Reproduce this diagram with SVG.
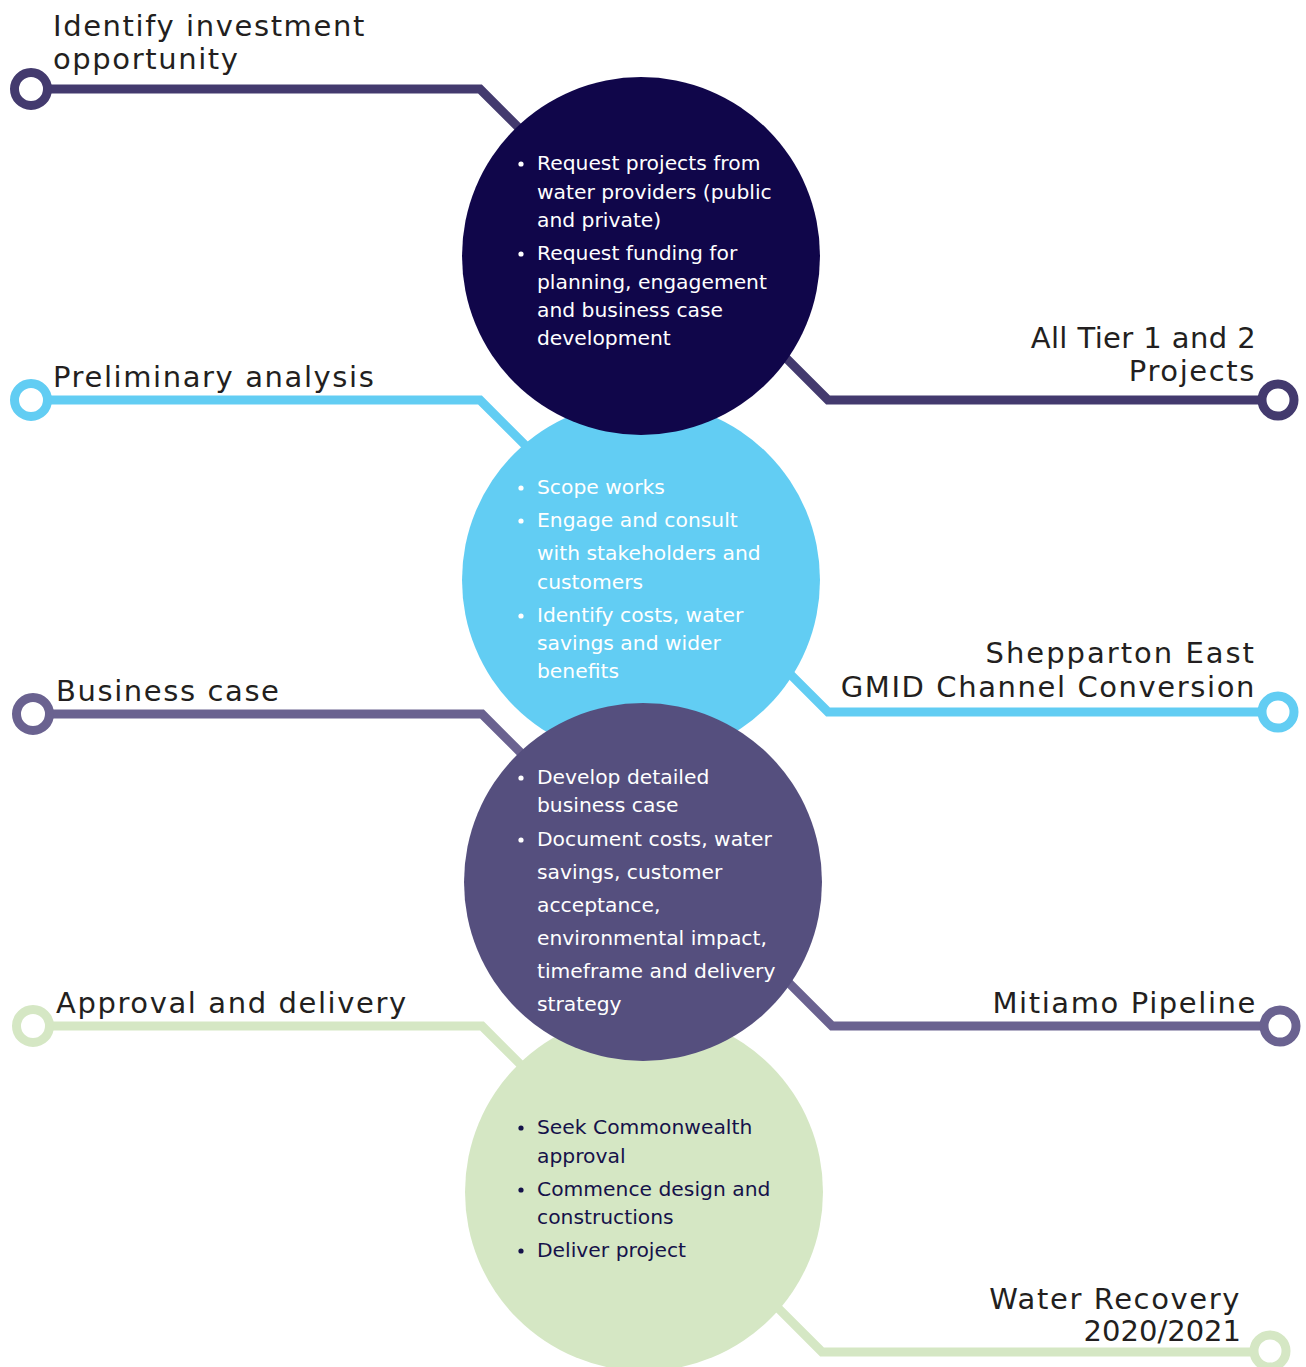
<svg xmlns="http://www.w3.org/2000/svg" width="1306" height="1367" viewBox="0 0 1306 1367">
<style>
.ln{fill:none;stroke-width:9;stroke-linejoin:miter}
.end{fill:#fff;stroke-width:9}
.c1{stroke:#433a6e}
.c2{stroke:#62cdf3}
.c3{stroke:#6a6290}
.c4{stroke:#d5e7c4}
.title{font-family:"DejaVu Sans","Open Sans",sans-serif;font-size:29px;letter-spacing:1.6px;fill:#231f20}
.r{text-anchor:end}
.body{font-family:"DejaVu Sans","Open Sans",sans-serif;font-size:20.3px}
.w{fill:#fff}
.d{fill:#15124a}
</style>
<rect width="1306" height="1367" fill="#fff"/>
<g id="connectors">
<polyline class="ln c1" points="48,89 480,89 641,250"/>
<polyline class="ln c1" points="700,272 828,400 1260,400"/>
<polyline class="ln c2" points="48,400 480,400 600,520"/>
<polyline class="ln c2" points="700,584 828,712 1260,712"/>
<polyline class="ln c3" points="50,714 482,714 600,832"/>
<polyline class="ln c3" points="700,894 832,1026 1262,1026"/>
<polyline class="ln c4" points="50,1026 482,1026 600,1144"/>
<polyline class="ln c4" points="700,1230 822,1352 1252,1352"/>
<circle class="end c1" cx="31" cy="89" r="16.5"/>
<circle class="end c1" cx="1278" cy="400" r="16"/>
<circle class="end c2" cx="31" cy="400" r="16.5"/>
<circle class="end c2" cx="1278" cy="712" r="16"/>
<circle class="end c3" cx="33" cy="714" r="16.5"/>
<circle class="end c3" cx="1280" cy="1026" r="16"/>
<circle class="end c4" cx="33" cy="1026" r="16.5"/>
<circle class="end c4" cx="1270" cy="1351" r="16"/>
</g>
<g id="stage2">
<circle cx="641" cy="580" r="179" fill="#62cdf3"/>
<g class="body w">
<circle cx="521" cy="488" r="2.6"/><text x="537" y="494">Scope works</text>
<circle cx="521" cy="521" r="2.6"/><text x="537" y="527">Engage and consult</text>
<text x="537" y="560">with stakeholders and</text>
<text x="537" y="589">customers</text>
<circle cx="521" cy="616" r="2.6"/><text x="537" y="622">Identify costs, water</text>
<text x="537" y="650">savings and wider</text>
<text x="537" y="678">benefits</text>
</g>
</g>
<g id="stage4">
<circle cx="644" cy="1192" r="179" fill="#d5e7c4"/>
<g class="body d">
<circle cx="521" cy="1128" r="2.6"/><text x="537" y="1134">Seek Commonwealth</text>
<text x="537" y="1163">approval</text>
<circle cx="521" cy="1190" r="2.6"/><text x="537" y="1196">Commence design and</text>
<text x="537" y="1224">constructions</text>
<circle cx="521" cy="1251" r="2.6"/><text x="537" y="1257">Deliver project</text>
</g>
</g>
<g id="stage1">
<circle cx="641" cy="256" r="179" fill="#10064a"/>
<g class="body w">
<circle cx="521" cy="164" r="2.6"/><text x="537" y="170">Request projects from</text>
<text x="537" y="199">water providers (public</text>
<text x="537" y="227">and private)</text>
<circle cx="521" cy="254" r="2.6"/><text x="537" y="260">Request funding for</text>
<text x="537" y="289">planning, engagement</text>
<text x="537" y="317">and business case</text>
<text x="537" y="345">development</text>
</g>
</g>
<g id="stage3">
<circle cx="643" cy="882" r="179" fill="#554f7e"/>
<g class="body w">
<circle cx="521" cy="778" r="2.6"/><text x="537" y="784">Develop detailed</text>
<text x="537" y="812">business case</text>
<circle cx="521" cy="840" r="2.6"/><text x="537" y="846">Document costs, water</text>
<text x="537" y="879">savings, customer</text>
<text x="537" y="912">acceptance,</text>
<text x="537" y="945">environmental impact,</text>
<text x="537" y="978">timeframe and delivery</text>
<text x="537" y="1011">strategy</text>
</g>
</g>
<g id="labels">
<text class="title" x="53" y="36">Identify investment</text>
<text class="title" x="53" y="69">opportunity</text>
<text class="title r" x="1256" y="348" style="letter-spacing:0.4px">All Tier 1 and 2</text>
<text class="title r" x="1256" y="381">Projects</text>
<text class="title" x="53" y="387">Preliminary analysis</text>
<text class="title r" x="1256" y="663" style="letter-spacing:2px">Shepparton East</text>
<text class="title r" x="1256" y="697">GMID Channel Conversion</text>
<text class="title" x="56" y="701">Business case</text>
<text class="title r" x="1257" y="1013">Mitiamo Pipeline</text>
<text class="title" x="56" y="1013">Approval and delivery</text>
<text class="title r" x="1241" y="1309">Water Recovery</text>
<text class="title r" x="1241" y="1341" style="letter-spacing:0px">2020/2021</text>
</g>
</svg>
